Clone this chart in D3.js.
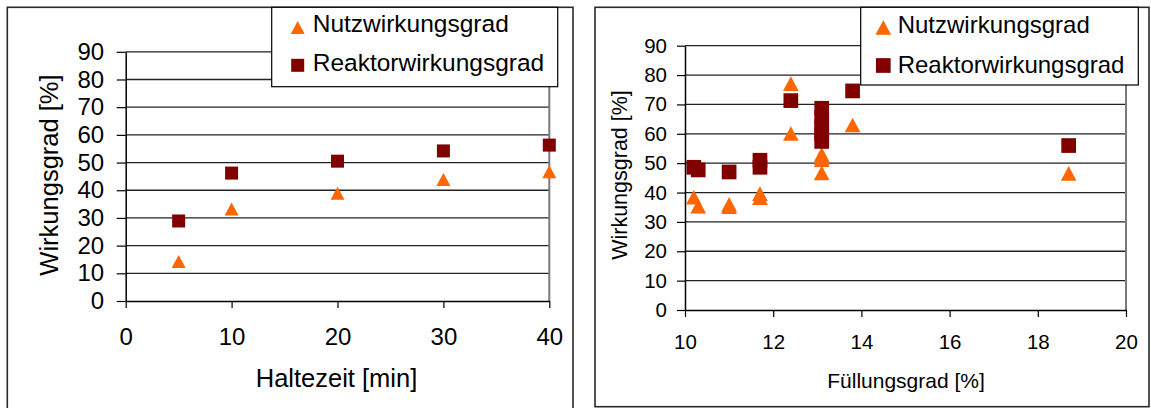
<!DOCTYPE html>
<html>
<head>
<meta charset="utf-8">
<script src="https://cdn.jsdelivr.net/npm/d3@7"></script>
<style>
  html, body { margin: 0; padding: 0; background: #fff; }
  svg { display: block; font-family: "Liberation Sans", Arial, sans-serif; }
</style>
</head>
<body>
<svg id="chart" width="1151" height="408"></svg>
<script>
// Haltezeit series (left panel)
const haltezeit = [5, 10, 20, 30, 40];
const nutzHalte = [14.3, 33.2, 38.9, 43.9, 46.7];
const reaktorHalte = [28.9, 46.2, 50.5, 54.2, 56.3];

// Füllungsgrad series (right panel)
const fuellNutz = [10.2, 10.3, 11.0, 11.0, 11.7, 11.7, 12.4, 12.4, 13.1, 13.1, 13.1, 13.1, 13.8, 18.7];
const nutzFuell = [38.4, 35.4, 36.0, 35.2, 39.6, 38.3, 77.1, 60.1, 53.0, 52.0, 51.2, 46.7, 63.0, 46.5];
const fuellReaktor = [10.2, 10.3, 11.0, 11.7, 11.7, 12.4, 13.1, 13.1, 13.1, 13.1, 13.1, 13.8, 18.7];
const reaktorFuell = [48.6, 47.7, 47.0, 51.0, 48.6, 71.3, 68.7, 65.5, 62.5, 60.0, 57.4, 74.6, 56.0];

// Axis ticks and labels
const yTicks = [0, 10, 20, 30, 40, 50, 60, 70, 80, 90];
const xTicksHalte = [0, 10, 20, 30, 40];
const xTicksFuell = [10, 12, 14, 16, 18, 20];
const seriesNames = ["Nutzwirkungsgrad", "Reaktorwirkungsgrad"];
const yTitle = "Wirkungsgrad [%]";
const xTitleHalte = "Haltezeit [min]";
const xTitleFuell = "Füllungsgrad [%]";

const ORANGE = "#FF6600";
const DARKRED = "#800000";

const svg = d3.select("#chart");

function trianglePath(w, h) {
  return `M0,${-h / 2}L${w / 2},${h / 2}L${-w / 2},${h / 2}Z`;
}

function drawPanel(p) {
  const g = svg.append("g");

  // outer chart frame
  g.append("rect")
    .attr("x", p.frame[0]).attr("y", p.frame[1])
    .attr("width", p.frame[2]).attr("height", p.frame[3])
    .attr("fill", "#fff").attr("stroke", "#2a2a2a").attr("stroke-width", 1.6);

  const x = d3.scaleLinear().domain(p.xDomain).range([p.x0, p.x1]);
  const y = d3.scaleLinear().domain([0, 90]).range([p.y0, p.y1]);

  // horizontal gridlines
  g.append("g").selectAll("line").data(yTicks.filter(d => d > 0)).join("line")
    .attr("x1", p.x0).attr("x2", p.x1)
    .attr("y1", d => y(d)).attr("y2", d => y(d))
    .attr("stroke", "#222").attr("stroke-width", 1.3);

  // right border of plot area
  g.append("line")
    .attr("x1", p.x1).attr("x2", p.x1).attr("y1", p.y1).attr("y2", p.y0)
    .attr("stroke", "#7a7a7a").attr("stroke-width", 2);

  // y axis
  const yAxis = g.append("g")
    .attr("transform", `translate(${p.x0},0)`)
    .call(d3.axisLeft(y).tickValues(yTicks).tickSizeInner(p.yTickLen).tickSizeOuter(0).tickPadding(p.yTickPad));
  yAxis.select(".domain").attr("stroke", "#000").attr("stroke-width", 1.5);
  yAxis.selectAll(".tick line").attr("stroke", "#000").attr("stroke-width", 1.2);
  yAxis.selectAll("text")
    .attr("font-size", p.tickFont).attr("fill", "#000")
    .attr("font-family", "Liberation Sans, Arial, sans-serif");

  // x axis
  const xAxis = g.append("g")
    .attr("transform", `translate(0,${p.y0})`)
    .call(d3.axisBottom(x).tickValues(p.xTicks).tickSizeInner(7).tickSizeOuter(0).tickFormat(d3.format("d")));
  xAxis.select(".domain").attr("stroke", "#000").attr("stroke-width", 1.5);
  xAxis.selectAll(".tick line").attr("stroke", "#000").attr("stroke-width", 1.2);
  xAxis.selectAll("text")
    .attr("font-size", p.tickFont).attr("fill", "#000")
    .attr("font-family", "Liberation Sans, Arial, sans-serif")
    .attr("dy", null).attr("y", p.xLabelBaseline - p.y0);

  // axis titles
  g.append("text")
    .attr("x", (p.x0 + p.x1) / 2 + p.xTitleShift).attr("y", p.xTitleBaseline)
    .attr("text-anchor", "middle").attr("font-size", p.xTitleFont)
    .text(p.xTitle);
  g.append("text")
    .attr("transform", `translate(${p.yTitleX},${p.yTitleY}) rotate(-90)`)
    .attr("text-anchor", "middle").attr("font-size", p.yTitleFont)
    .text(yTitle);

  // Nutzwirkungsgrad markers
  g.append("g").selectAll("path").data(p.nutzX.map((v, i) => [v, p.nutzY[i]])).join("path")
    .attr("d", trianglePath(p.mark + 1, p.mark))
    .attr("transform", d => `translate(${x(d[0])},${y(d[1])})`)
    .attr("fill", ORANGE);

  // Reaktorwirkungsgrad markers
  g.append("g").selectAll("rect").data(p.reakX.map((v, i) => [v, p.reakY[i]])).join("rect")
    .attr("x", d => x(d[0]) - p.mark / 2).attr("y", d => y(d[1]) - p.mark / 2)
    .attr("width", p.mark).attr("height", p.mark)
    .attr("fill", DARKRED);

  // legend
  const L = p.legend;
  const lg = g.append("g");
  lg.append("rect")
    .attr("x", L.box[0]).attr("y", L.box[1]).attr("width", L.box[2]).attr("height", L.box[3])
    .attr("fill", "#fff").attr("stroke", "#000").attr("stroke-width", 1.2);
  lg.append("path")
    .attr("d", trianglePath(L.mark + 1, L.mark))
    .attr("transform", `translate(${L.markX},${L.row1})`)
    .attr("fill", ORANGE);
  lg.append("rect")
    .attr("x", L.markX - L.mark / 2).attr("y", L.row2 - L.mark / 2)
    .attr("width", L.mark).attr("height", L.mark)
    .attr("fill", DARKRED);
  lg.append("text").attr("x", L.textX).attr("y", L.base1)
    .attr("font-size", L.font).text(seriesNames[0]);
  lg.append("text").attr("x", L.textX).attr("y", L.base2)
    .attr("font-size", L.font).text(seriesNames[1]);
}

drawPanel({
  frame: [7.3, 7.3, 565.7, 420],
  xDomain: [0, 40], xTicks: xTicksHalte,
  x0: 125.7, x1: 549.3, y0: 301, y1: 51.8,
  yTickLen: 9, yTickPad: 12.5, tickFont: 24,
  xLabelBaseline: 345,
  xTitle: xTitleHalte, xTitleFont: 25.5, xTitleBaseline: 387.3, xTitleShift: -1,
  yTitleX: 58, yTitleY: 175, yTitleFont: 25.5,
  nutzX: haltezeit, nutzY: nutzHalte, reakX: haltezeit, reakY: reaktorHalte,
  mark: 13,
  legend: { box: [271.7, 7.3, 286, 79.4], mark: 13, markX: 297.7, row1: 27.5, row2: 65.3,
            textX: 312.7, base1: 31.7, base2: 70.7, font: 24.5 }
});

drawPanel({
  frame: [595, 7.3, 554, 399.4],
  xDomain: [10, 20], xTicks: xTicksFuell,
  x0: 685, x1: 1126, y0: 310, y1: 45.7,
  yTickLen: 8, yTickPad: 10, tickFont: 20.5,
  xLabelBaseline: 349.3,
  xTitle: xTitleFuell, xTitleFont: 21, xTitleBaseline: 388.3, xTitleShift: 0.5,
  yTitleX: 627, yTitleY: 175, yTitleFont: 21.5,
  nutzX: fuellNutz, nutzY: nutzFuell, reakX: fuellReaktor, reakY: reaktorFuell,
  mark: 14.7,
  legend: { box: [860.7, 7.3, 277.6, 77.7], mark: 14.7, markX: 883.3, row1: 27.5, row2: 65.5,
            textX: 897.7, base1: 33.3, base2: 72.7, font: 24 }
});
</script>
</body>
</html>
